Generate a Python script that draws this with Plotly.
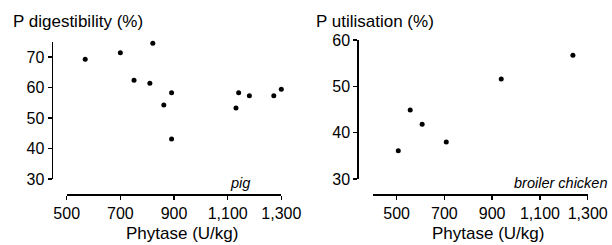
import plotly.graph_objects as go

pig_phytase = [569, 700, 751, 810, 821, 862, 891, 891, 1131, 1141, 1181, 1272, 1300]
pig_digest = [69.3, 71.4, 62.4, 61.4, 74.5, 54.3, 58.3, 43.1, 53.3, 58.3, 57.3, 57.3, 59.4]

broiler_phytase = [507, 557, 607, 708, 938, 1238]
broiler_util = [36.1, 44.9, 41.8, 38.0, 51.6, 56.7]

x_ticks = [500, 700, 900, 1100, 1300]
x_ticklabels = ["500", "700", "900", "1,100", "1,300"]
pig_y_ticks = [30, 40, 50, 60, 70]
broiler_y_ticks = [30, 40, 50, 60]

W, H = 612, 245
FONT = "Liberation Sans, Arial, sans-serif"

def px(x):
    return x / W

def py(y):
    return 1 - y / H

fig = go.Figure()
fig.add_trace(go.Scatter(x=pig_phytase, y=pig_digest, mode="markers",
                         marker=dict(color="black", size=5), cliponaxis=False,
                         xaxis="x", yaxis="y", showlegend=False, hoverinfo="skip"))
fig.add_trace(go.Scatter(x=broiler_phytase, y=broiler_util, mode="markers",
                         marker=dict(color="black", size=5), cliponaxis=False,
                         xaxis="x2", yaxis="y2", showlegend=False, hoverinfo="skip"))

axis_common = dict(showline=True, linecolor="black", linewidth=1.5, ticks="outside",
                   ticklen=4, tickwidth=1.5, tickcolor="black", showgrid=False,
                   zeroline=False, automargin=False,
                   tickfont=dict(family=FONT, size=16, color="black"))

fig.update_layout(
    template="none",
    width=W, height=H, margin=dict(l=0, r=0, t=0, b=0, pad=0, autoexpand=False),
    plot_bgcolor="white", paper_bgcolor="white",
    xaxis=dict(domain=[px(66.7), px(281.3)], range=[500, 1300], anchor="free",
               position=py(194), tickvals=x_ticks, ticktext=x_ticklabels, **axis_common),
    yaxis=dict(domain=[py(179), py(41.75)], range=[30, 75], anchor="free",
               position=px(51.5), tickvals=pig_y_ticks, **axis_common),
    xaxis2=dict(domain=[px(372.7), px(587.7)], range=[400, 1300], anchor="free",
                position=py(194), tickvals=x_ticks, ticktext=x_ticklabels, **axis_common),
    yaxis2=dict(domain=[py(179), py(40)], range=[30, 60], anchor="free",
                position=px(357.3), tickvals=broiler_y_ticks, **axis_common),
    annotations=[
        dict(text="P digestibility (%)", x=px(11), y=py(21.5), xref="paper", yref="paper",
             xanchor="left", yanchor="middle", showarrow=False,
             font=dict(family=FONT, size=17, color="black")),
        dict(text="P utilisation (%)", x=px(314), y=py(21.5), xref="paper", yref="paper",
             xanchor="left", yanchor="middle", showarrow=False,
             font=dict(family=FONT, size=17, color="black")),
        dict(text="Phytase (U/kg)", x=px(181.7), y=py(233), xref="paper", yref="paper",
             xanchor="center", yanchor="middle", showarrow=False,
             font=dict(family=FONT, size=17, color="black")),
        dict(text="Phytase (U/kg)", x=px(487.7), y=py(233), xref="paper", yref="paper",
             xanchor="center", yanchor="middle", showarrow=False,
             font=dict(family=FONT, size=17, color="black")),
        dict(text="<i>pig</i>", x=px(240), y=py(183), xref="paper", yref="paper",
             xanchor="center", yanchor="middle", showarrow=False,
             font=dict(family=FONT, size=14.5, color="black")),
        dict(text="<i>broiler chicken</i>", x=px(610), y=py(182.5), xref="paper", yref="paper",
             xanchor="right", yanchor="middle", showarrow=False,
             font=dict(family=FONT, size=14.5, color="black")),
    ],
)

fig.write_html("out.html", config={"displayModeBar": False, "staticPlot": True},
               post_script="document.body.style.margin='0';document.body.style.overflow='hidden';")
